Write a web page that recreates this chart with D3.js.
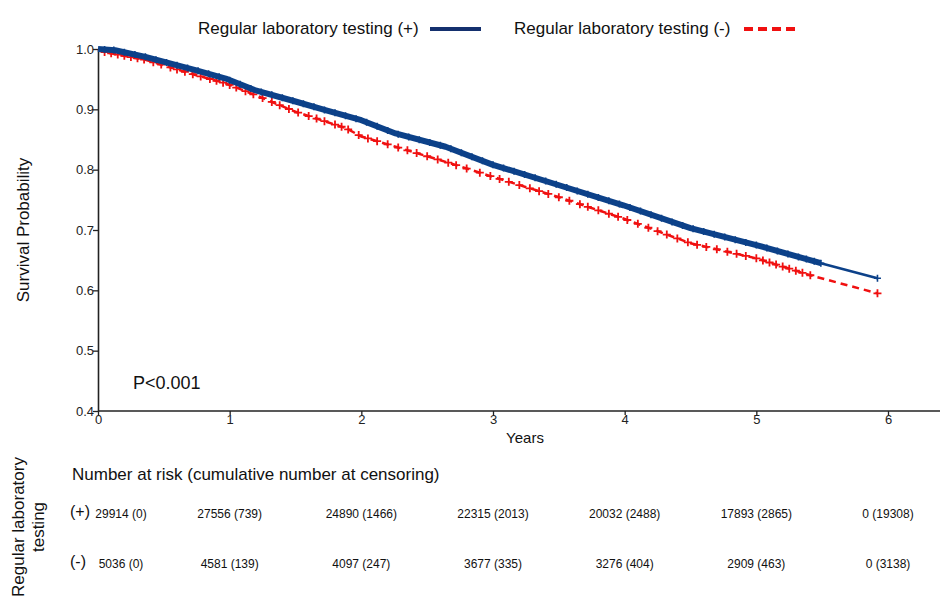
<!DOCTYPE html>
<html><head><meta charset="utf-8">
<script src="https://cdn.jsdelivr.net/npm/d3@7/dist/d3.min.js"></script>
<style>
html,body{margin:0;padding:0;background:#fff;}
svg{display:block;font-family:"Liberation Sans",Arial,sans-serif;}
</style></head>
<body>
<svg id="chart" width="940" height="598"></svg>
<script>
// ---- data ----
const seriesNames = ["Regular laboratory testing (+)", "Regular laboratory testing (-)"];
const plusTime = [0, 0.13, 0.36, 0.74, 0.97, 1.19, 1.5, 1.72, 2.0, 2.26, 2.64, 3.0, 3.49, 3.99, 4.5, 5.0, 5.49, 5.92];
const plusSurv = [1.0, 0.998, 0.987, 0.965, 0.951, 0.932, 0.913, 0.899, 0.882, 0.860, 0.838, 0.808, 0.775, 0.741, 0.703, 0.675, 0.645, 0.620];
const minusTime = [0, 0.05, 0.36, 0.74, 0.97, 1.19, 1.5, 1.88, 2.0, 2.26, 2.64, 3.0, 3.49, 3.99, 4.5, 5.0, 5.41, 5.92];
const minusSurv = [1.0, 0.995, 0.982, 0.957, 0.943, 0.924, 0.896, 0.869, 0.855, 0.838, 0.813, 0.788, 0.755, 0.719, 0.678, 0.653, 0.625, 0.595];
const plusCensor = [0.05,0.12,0.2,0.28,0.36,0.44,0.52,0.6,0.68,0.76,0.84,0.92,1.0,1.08,1.16,1.24,1.32,1.4,1.48,1.56,1.64,1.72,1.8,1.88,1.96,2.04,2.12,2.2,2.28,2.36,2.44,2.52,2.6,2.68,2.76,2.84,2.92,3.0,3.08,3.16,3.24,3.32,3.4,3.48,3.56,3.64,3.72,3.8,3.88,3.96,4.04,4.12,4.2,4.28,4.36,4.44,4.52,4.6,4.68,4.76,4.84,4.92,5.0,5.08,5.16,5.24,5.32,5.38,5.44,5.49,5.92];
const minusCensor = [0.05,0.1,0.15,0.2,0.25,0.3,0.35,0.42,0.48,0.55,0.6,0.66,0.72,0.78,0.85,0.9,0.95,1.0,1.05,1.12,1.18,1.25,1.32,1.38,1.45,1.52,1.6,1.66,1.72,1.8,1.85,1.9,1.98,2.05,2.12,2.2,2.28,2.35,2.42,2.5,2.58,2.66,2.72,2.8,2.9,2.98,3.05,3.12,3.2,3.28,3.35,3.42,3.5,3.58,3.66,3.72,3.8,3.88,3.95,4.02,4.1,4.18,4.25,4.32,4.4,4.48,4.55,4.62,4.7,4.78,4.85,4.92,5.0,5.05,5.1,5.15,5.2,5.25,5.3,5.35,5.41,5.92];
const xTicks = [0, 1, 2, 3, 4, 5, 6];
const yTicks = [0.4, 0.5, 0.6, 0.7, 0.8, 0.9, 1.0];
const riskTimes = [0, 1, 2, 3, 4, 5, 6];
const riskPlus = ["29914 (0)", "27556 (739)", "24890 (1466)", "22315 (2013)", "20032 (2488)", "17893 (2865)", "0 (19308)"];
const riskMinus = ["5036 (0)", "4581 (139)", "4097 (247)", "3677 (335)", "3276 (404)", "2909 (463)", "0 (3138)"];
const riskRowLabels = ["(+)", "(-)"];

// ---- layout ----
const svg = d3.select("#chart");
const blue = "#0c4189", red = "#f01010";
const x = d3.scaleLinear().domain([0, 6]).range([98, 888]);
const y = d3.scaleLinear().domain([0.4, 1.0]).range([411, 49]);

// axes
const xAxis = svg.append("g").attr("transform", "translate(0,411)")
  .call(d3.axisBottom(x).tickValues(xTicks).tickFormat(d3.format("d")).tickSize(4).tickSizeOuter(0));
xAxis.select(".domain").attr("d", "M98,0H940");
const yAxis = svg.append("g").attr("transform", "translate(98,0)")
  .call(d3.axisLeft(y).tickValues(yTicks).tickFormat(d3.format(".1f")).tickSize(5).tickSizeOuter(0));
[xAxis, yAxis].forEach(g => {
  g.select(".domain").attr("stroke", "#222").attr("stroke-width", 1.6);
  g.selectAll(".tick line").attr("stroke", "#222").attr("stroke-width", 1.3);
  g.selectAll("text").attr("font-family", "Liberation Sans, Arial, sans-serif").attr("font-size", 13).attr("fill", "#222");
});
xAxis.selectAll("text").attr("dy", "0.6em").attr("y", 5);
yAxis.selectAll("text").attr("x", -4);

svg.append("text").attr("x", 525).attr("y", 443).attr("text-anchor", "middle")
  .attr("font-size", 15).attr("fill", "#111").text("Years");
svg.append("text").attr("transform", "translate(29,230) rotate(-90)").attr("text-anchor", "middle")
  .attr("font-size", 17).attr("fill", "#111").text("Survival Probability");

// curves
function survAt(times, surv, t) {
  let i = d3.bisectRight(times, t) - 1;
  if (i < 0) i = 0;
  if (i >= times.length - 1) return surv[surv.length - 1];
  const f = (t - times[i]) / (times[i + 1] - times[i]);
  return surv[i] + f * (surv[i + 1] - surv[i]);
}
const line = d3.line().x(d => x(d[0])).y(d => y(d[1]));
const plusPts = plusTime.map((t, i) => [t, plusSurv[i]]);
const minusPts = minusTime.map((t, i) => [t, minusSurv[i]]);
const plusDense = plusPts.filter(d => d[0] <= 5.49);

// minus (red, dashed)
svg.append("path").attr("d", line(minusPts)).attr("fill", "none").attr("stroke", red)
  .attr("stroke-width", 2.5).attr("stroke-dasharray", "7,5");
const crossR = "M-4,0H4M0,-4V4";
svg.append("g").selectAll("path").data(minusCensor).join("path")
  .attr("transform", t => `translate(${x(t)},${y(survAt(minusTime, minusSurv, t))})`)
  .attr("d", crossR).attr("stroke", red).attr("stroke-width", 1.8).attr("fill", "none");

// plus (blue, solid, dense censoring band)
const cross = "M-3.5,0H3.5M0,-3.5V3.5";
svg.append("path").attr("d", line(plusPts)).attr("fill", "none").attr("stroke", blue).attr("stroke-width", 2.5);
svg.append("path").attr("d", line(plusDense)).attr("fill", "none").attr("stroke", blue)
  .attr("stroke-width", 6).attr("stroke-linejoin", "round");
svg.append("g").selectAll("path").data(plusCensor).join("path")
  .attr("transform", t => `translate(${x(t)},${y(survAt(plusTime, plusSurv, t))})`)
  .attr("d", cross).attr("stroke", blue).attr("stroke-width", 1.6).attr("fill", "none");

// p-value
svg.append("text").attr("x", 133).attr("y", 389).attr("font-size", 18).attr("fill", "#111").text("P<0.001");

// legend
const leg = svg.append("g");
leg.append("text").attr("x", 198).attr("y", 34).attr("font-size", 17).attr("fill", "#111").text(seriesNames[0]);
leg.append("line").attr("x1", 430).attr("x2", 481).attr("y1", 29).attr("y2", 29)
  .attr("stroke", "#14306e").attr("stroke-width", 4);
leg.append("text").attr("x", 514).attr("y", 34).attr("font-size", 17).attr("fill", "#111").text(seriesNames[1]);
leg.append("line").attr("x1", 744).attr("x2", 796).attr("y1", 29).attr("y2", 29)
  .attr("stroke", red).attr("stroke-width", 4).attr("stroke-dasharray", "9,5");

// risk table
svg.append("text").attr("x", 72).attr("y", 480).attr("font-size", 17).attr("fill", "#111")
  .text("Number at risk (cumulative number at censoring)");
svg.append("text").attr("transform", "translate(24,527) rotate(-90)").attr("text-anchor", "middle")
  .attr("font-size", 17).attr("fill", "#111").text("Regular laboratory");
svg.append("text").attr("transform", "translate(44,527) rotate(-90)").attr("text-anchor", "middle")
  .attr("font-size", 17).attr("fill", "#111").text("testing");
const rowsY = [518, 568];
[riskPlus, riskMinus].forEach((row, r) => {
  svg.append("text").attr("x", 70).attr("y", rowsY[r] - 1).attr("font-size", 16).attr("fill", "#111").text(riskRowLabels[r]);
  svg.append("g").selectAll("text").data(row).join("text")
    .attr("x", (d, i) => i === 0 ? x(riskTimes[i]) + 23 : x(riskTimes[i]))
    .attr("y", rowsY[r]).attr("text-anchor", "middle").attr("font-size", 12).attr("fill", "#111")
    .text(d => d);
});
</script>
</body></html>
